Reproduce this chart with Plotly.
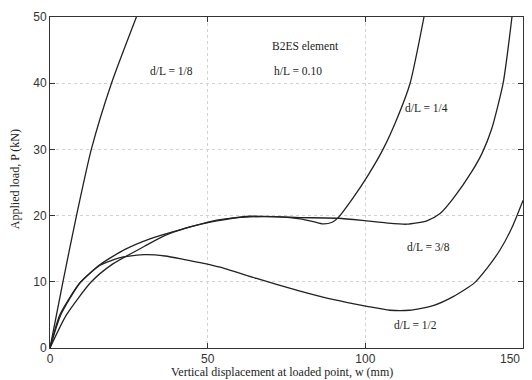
import plotly.graph_objects as go

# Load-displacement response of the B2ES element for four load positions d/L
w_18 = [0, 4.1, 8.4, 13.1, 19.5, 27.4]
p_18 = [0, 10.0, 20.0, 30.0, 40.0, 50.0]

w_14 = [0, 3.1, 9.4, 15.9, 23.8, 31.7, 42.3, 52.9, 63.4, 72.9, 79.3, 83.5,
        86.6, 89.5, 91.4, 96.0, 101.0, 105.6, 110.0, 114.2, 118.6]
p_14 = [0, 5.0, 9.8, 12.6, 14.9, 16.5, 18.0, 19.3, 19.8, 19.8, 19.5, 19.1,
        18.75, 19.0, 19.7, 22.6, 26.2, 30.0, 34.6, 40.0, 50.0]

w_38 = [0, 5.2, 13.1, 19.6, 30.1, 36.5, 42.3, 52.9, 63.4, 72.9, 79.3, 91.4,
        100.4, 106.5, 113.1, 119.5, 123.7, 127.9, 133.7, 137.0, 140.0, 143.7, 146.5]
p_38 = [0, 5.0, 10.0, 12.6, 15.4, 17.0, 18.0, 19.2, 19.9, 19.8, 19.7, 19.6,
        19.2, 18.9, 18.7, 19.2, 20.3, 22.6, 26.6, 29.4, 33.0, 40.0, 50.0]

w_12 = [0, 3.4, 9.6, 15.9, 22.6, 30.1, 36.5, 42.3, 47.6, 53.9, 65.5, 79.3,
        90.0, 100.5, 107.8, 114.0, 121.5, 128.0, 134.5, 138.5, 142.7, 146.5, 150.0]
p_12 = [0, 5.0, 9.9, 12.5, 13.7, 14.1, 13.9, 13.4, 12.9, 12.2, 10.5, 8.6,
        7.3, 6.3, 5.7, 5.7, 6.4, 7.8, 9.8, 12.0, 14.8, 18.2, 22.3]

x_ticks = [0, 50, 100, 150]
x_tick_text = ["0", "50", "100", "150"]
y_ticks = [0, 10, 20, 30, 40, 50]

curve_labels = [
    ("d/L = 1/8", 31.0, 41.8),
    ("d/L = 1/4", 112.0, 36.3),
    ("d/L = 3/8", 112.6, 15.3),
    ("d/L = 1/2", 108.5, 3.4),
]
info_labels = [
    ("B2ES element", 69.8, 45.6),
    ("h/L = 0.10", 70.4, 41.8),
]

serif = "Liberation Serif, Times New Roman, serif"
sans = "Liberation Sans, Arial, sans-serif"
ink = "#222222"

fig = go.Figure()
for w, p in [(w_18, p_18), (w_14, p_14), (w_38, p_38), (w_12, p_12)]:
    fig.add_trace(go.Scatter(
        x=w, y=p, mode="lines",
        line=dict(color=ink, width=1.3, shape="spline", smoothing=0.6),
        showlegend=False, hoverinfo="skip",
    ))

for text, x, y in curve_labels + info_labels:
    fig.add_annotation(x=x, y=y, text=text, showarrow=False,
                       xanchor="left", yanchor="middle",
                       font=dict(family=serif, size=11.5, color=ink))

# the last x tick label sits just inside the right frame edge
fig.add_annotation(x=x_ticks[-1], y=0, yref="y", text=x_tick_text[-1],
                   showarrow=False, xanchor="right", yanchor="top",
                   xshift=-1, yshift=-2,
                   font=dict(family=sans, size=12, color="#333333"))

fig.add_annotation(xref="paper", yref="paper", x=0.49, y=-0.072,
                   text="Vertical displacement at loaded point, w (mm)",
                   showarrow=False, xanchor="center", yanchor="middle",
                   font=dict(family=serif, size=12, color=ink))
fig.add_annotation(xref="paper", yref="paper", x=-0.074, y=0.51,
                   text="Applied load, P (kN)", textangle=-90,
                   showarrow=False, xanchor="center", yanchor="middle",
                   font=dict(family=serif, size=12, color=ink))

axis_common = dict(
    showline=True, linecolor="#333333", linewidth=1, mirror="ticks",
    ticks="inside", ticklen=5, tickcolor="#333333",
    showgrid=True, gridcolor="#d2d2d2", griddash="dot", gridwidth=1,
    zeroline=False, tickfont=dict(family=sans, size=12, color="#333333"),
)
fig.update_xaxes(range=[0, 150], tickvals=x_ticks,
                 ticktext=x_tick_text[:-1] + [""], **axis_common)
fig.update_yaxes(range=[0, 50], tickvals=y_ticks, **axis_common)

fig.update_layout(
    width=532, height=380,
    margin=dict(l=50, r=9, t=17, b=32),
    paper_bgcolor="white", plot_bgcolor="white",
)

fig.write_html("out.html")
